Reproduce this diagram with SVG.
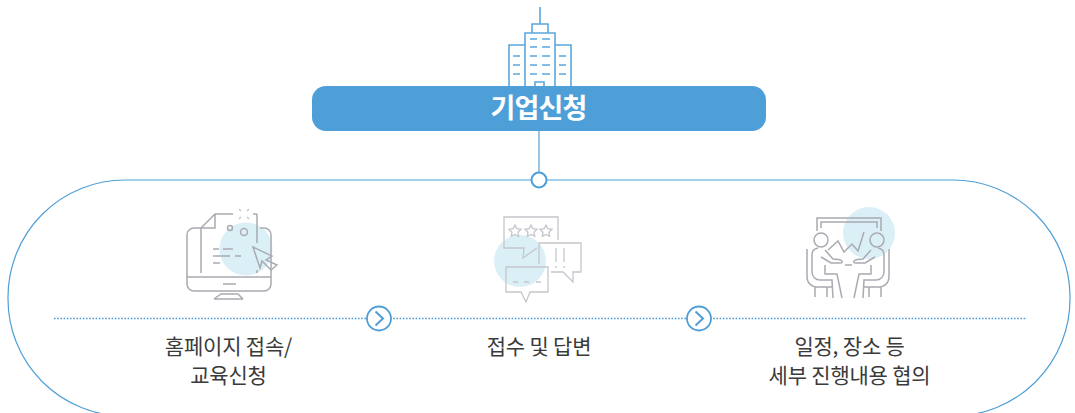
<svg xmlns="http://www.w3.org/2000/svg" width="1075" height="413" viewBox="0 0 1075 413">
<style>
text{font-family:"Noto Sans CJK KR","Noto Sans",sans-serif;text-anchor:middle}
.lb{font-size:21px;fill:#3a3a3a;letter-spacing:-.2px}
.b{fill:none;stroke:#5ba7dc;stroke-width:1.6}
.i{fill:none;stroke:#a9abb2;stroke-width:1.5}
.l{fill:none;stroke:#c4c6cc;stroke-width:1.3}
.c{fill:#dbeff6}
.cn{fill:none;stroke:#4e9fd7;stroke-width:1.2}
</style>
<g id="connectors">
<rect class="cn" x="8" y="180" width="1062" height="236" rx="117"/>
<path d="M539 131V172" fill="none" stroke="#7db8e0" stroke-width="1.6"/>
<path d="M54 318.500H1027" fill="none" stroke="#4e9fd7" stroke-width="1.6" stroke-dasharray="1.600 1.600"/>
</g>
<g id="building">
<path class="b" d="M540 7V24M532 24h16v9h-16zM525 86V33h30v53M525 45H509v41M555 45h16v41M535 86v-4h9v4"/>
<path class="b" d="M530 39h7M542 39h8M530 47h7M542 47h8M530 56h7M542 56h8M530 65h7M542 65h8M530 74h7M542 74h8M513 56h7M513 65h7M513 74h7M559 56h7M559 65h7M559 74h7" stroke-width="1.300"/>
</g>
<g id="apply">
<rect x="312" y="86" width="454" height="45" rx="14" fill="#4e9fd7"/>
<text x="538.500" y="118" font-size="27" font-weight="700" fill="#fff" style="letter-spacing:-.8px">기업신청</text>
</g>
<g id="junction"><circle cx="539" cy="180" r="7.500" fill="#fff" stroke="#4e9fd7" stroke-width="2"/></g>
<g id="step1">
<circle class="c" cx="246" cy="249" r="26.500"/>
<path class="i" d="M201 228H194a7 7 0 0 0-7 7v49a7 7 0 0 0 7 7h70a7 7 0 0 0 7-7v-49a7 7 0 0 0-7-7h-4M187 277H271M223 284h13M214 299l7-5h17l5 5M214 299h29"/>
<path class="i" d="M201 273V228l14-14h18M215 214v14h-14M257 214v29M257 270v3M253 214h4"/>
<path class="l" d="M239 209l2 2M249 209l-2 2M239 219l2-2M249 219l-2-2"/>
<circle class="i" cx="230" cy="228" r="2.500"/><circle class="i" cx="244" cy="232" r="3.500"/>
<path class="i" d="M213 249h6M223 249h10M213 256h17M235 256h6M213 263h7"/>
<path class="i" d="M253 247L272 256 266 260 277 265 271 270 262 261 260 268z"/>
</g>
<g id="step2">
<circle class="c" cx="520" cy="261" r="26"/>
<path class="l" d="M558 240V217H504V248H524L523 258 537 248"/>
<path class="l" d="M539 264V243H581V272H573V282L563 272H551"/>
<path class="l" d="M506 267H548V292H530L526 302 521 292H506Z"/>
<path class="l" d="M515 225l1.800 3.700 4.200.600-3 2.900.700 4.100-3.700-1.900-3.700 1.900.700-4.100-3-2.900 4.200-.600zM531 225l1.800 3.700 4.200.600-3 2.900.700 4.100-3.700-1.900-3.700 1.900.700-4.100-3-2.900 4.200-.600zM546 225l1.800 3.700 4.200.600-3 2.900.700 4.100-3.700-1.900-3.700 1.900.700-4.100-3-2.900 4.200-.600z"/>
<path class="l" d="M556 248v14M564 248v14M556 266v2M564 266v2M513 282h5M524 282h5M536 282h5"/>
</g>
<g id="step3">
<circle class="c" cx="869" cy="233" r="26"/>
<path class="i" d="M817 231V218H881V231M821 228V222H877V228M828 250L838 241 844 252 852 244 858 251 864 232"/>
<path class="i" d="M845 265h7"/>
<g id="person-left">
<circle class="i" cx="821" cy="240" r="7"/>
<path class="i" d="M807 249V277a10 10 0 0 0 10 10H832M818 248Q812 249 812 255V272a8 8 0 0 0 8 8H832L833 298M821 257L831 263H840Q843 263 842 261Q840 259 833 259L825 250M825 265V274H837L842 298M815 287V297M827 287V297"/>
</g>
<g id="person-right">
<circle class="i" cx="877" cy="240" r="7"/>
<path class="i" d="M889 249V277a10 10 0 0 1-10 10H864M878 248Q884 249 884 255V272a8 8 0 0 1-8 8H864L863 298M875 257L865 263H856Q853 263 854 261Q856 259 863 259L871 250M871 265V274H859L854 298M881 287V297M869 287V297"/>
</g>
</g>
<g id="arrow1"><circle cx="379" cy="318.500" r="12" fill="#fff" stroke="#4e9fd7" stroke-width="1.800"/><path d="M375.500 311.500L383 318.500 375.500 325.500" fill="none" stroke="#4e9fd7" stroke-width="2"/></g>
<g id="arrow2"><circle cx="699" cy="318.500" r="12" fill="#fff" stroke="#4e9fd7" stroke-width="1.800"/><path d="M695.500 311.500L703 318.500 695.500 325.500" fill="none" stroke="#4e9fd7" stroke-width="2"/></g>
<g id="label1"><text class="lb" x="228.500" y="353.500">홈페이지 접속/</text><text class="lb" x="228.500" y="382.500">교육신청</text></g>
<g id="label2"><text class="lb" x="539" y="353.500">접수 및 답변</text></g>
<g id="label3"><text class="lb" x="849.500" y="353.500">일정, 장소 등</text><text class="lb" x="849.500" y="382.500">세부 진행내용 협의</text></g>
</svg>
